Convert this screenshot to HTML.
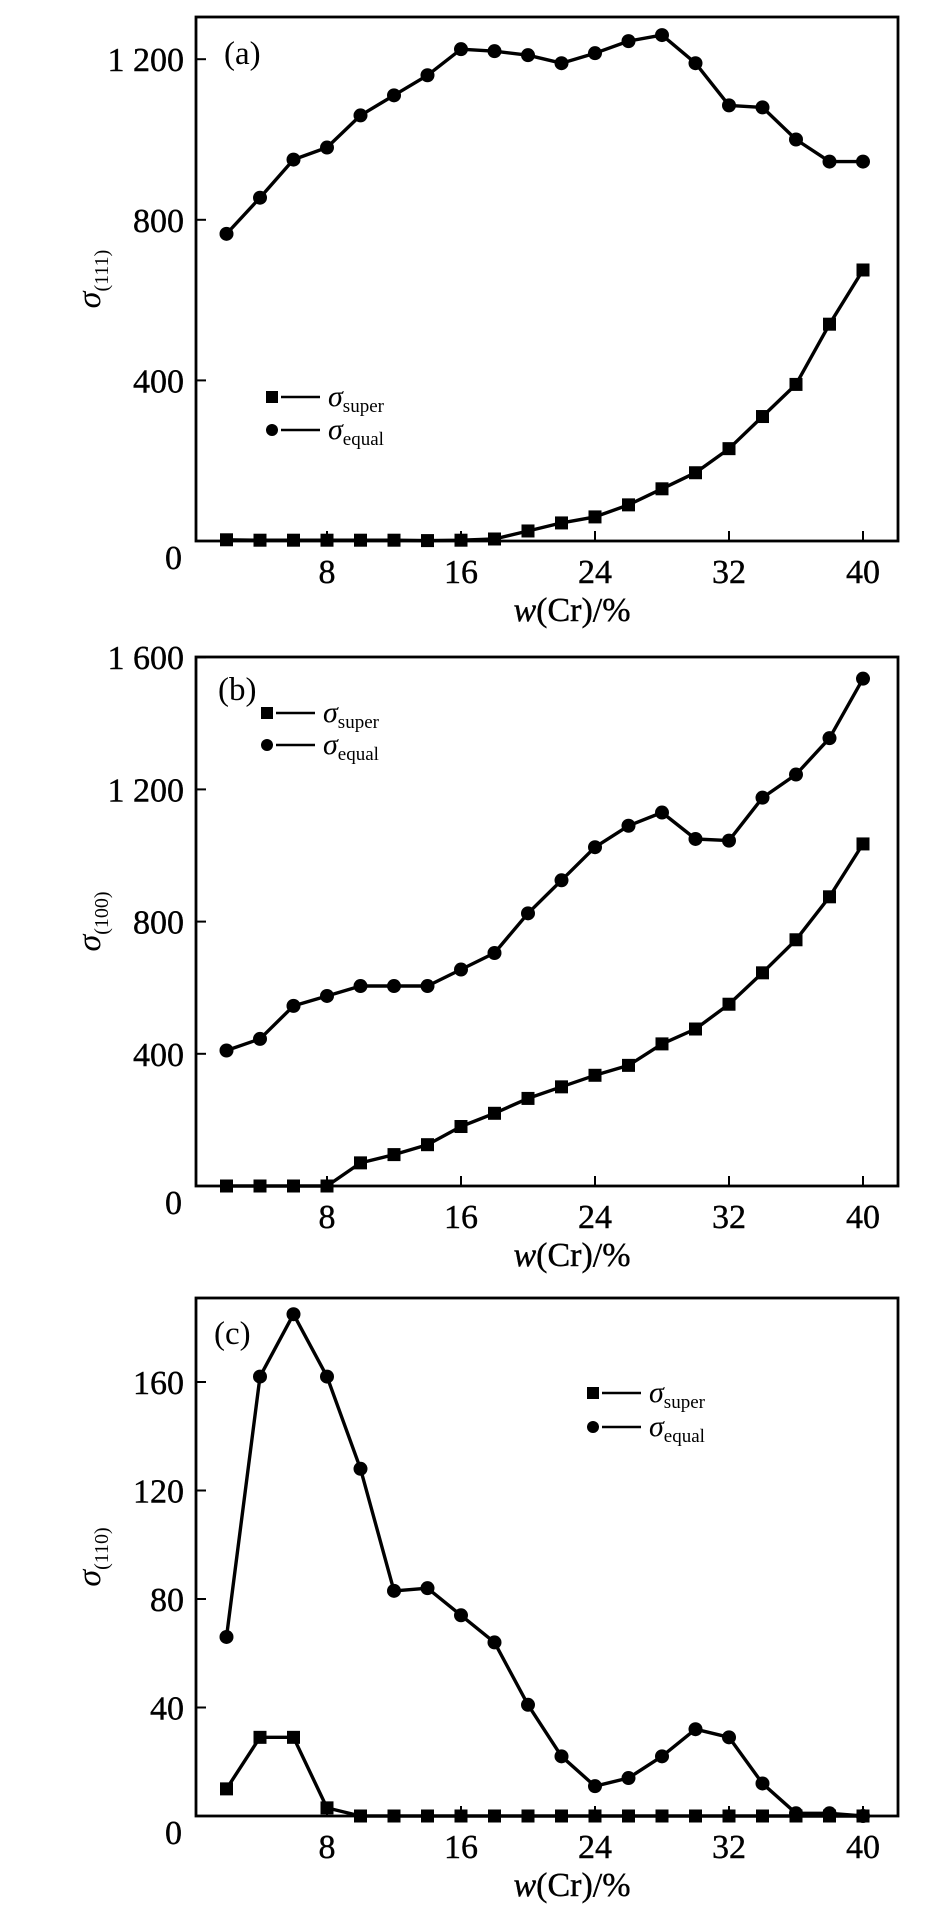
<!DOCTYPE html>
<html><head><meta charset="utf-8"><style>
html,body{margin:0;padding:0;background:#fff;}
svg{display:block;}
text{font-family:"Liberation Serif",serif;fill:#000;}
</style></head><body>
<svg id="s" width="950" height="1932" viewBox="0 0 950 1932" xmlns="http://www.w3.org/2000/svg"></svg>
<script>
const S=document.getElementById('s');let h='';
const X0=193,XU=16.75,L=196,R=898;
function px(x){return X0+x*XU;}
const xs=[];for(let i=2;i<=40;i+=2)xs.push(i);
function panel(o){
 const {top,bot,per,step,ticks,eq,su,tag,tagY,sub,leg}=o;
 const py=v=>bot-v/step*per;
 h+=`<rect x="${L}" y="${top}" width="${R-L}" height="${bot-top}" fill="none" stroke="#000" stroke-width="2.8"/>`;
 [8,16,24,32,40].forEach(t=>{const x=px(t);h+=`<line x1="${x}" y1="${bot}" x2="${x}" y2="${bot-10}" stroke="#000" stroke-width="2"/><text x="${x}" y="${bot+42}" font-size="34" text-anchor="middle" stroke="#000" stroke-width="0.4">${t}</text>`;});
 ticks.forEach(t=>{const y=py(t);h+=`<line x1="${L}" y1="${y}" x2="${L+10}" y2="${y}" stroke="#000" stroke-width="2"/><text x="${L-12}" y="${y+12}" font-size="34" text-anchor="end" stroke="#000" stroke-width="0.4">${t>=1000?String(t).replace(/^(\d)/,'$1 '):t}</text>`;});
 h+=`<text x="${L-14}" y="${bot+28}" font-size="34" text-anchor="end" stroke="#000" stroke-width="0.4">0</text>`;
 h+=`<text x="572" y="${bot+80}" font-size="34" text-anchor="middle" stroke="#000" stroke-width="0.4"><tspan font-style="italic">w</tspan>(Cr)/%</text>`;
 const cy=(top+bot)/2;
 h+=`<text transform="translate(100,${cy}) rotate(-90)" font-size="34" text-anchor="middle"><tspan font-style="italic">σ</tspan><tspan font-size="20" dy="8">(${sub})</tspan></text>`;
 h+=`<text x="${o.tagX}" y="${tagY}" font-size="33">(${tag})</text>`;
 [[eq,'c'],[su,'s']].forEach(([d,m])=>{
  let p=d.map((v,i)=>`${px(xs[i]).toFixed(1)},${py(v).toFixed(1)}`).join(' ');
  h+=`<polyline points="${p}" fill="none" stroke="#000" stroke-width="3.4" stroke-linejoin="round"/>`;
  d.forEach((v,i)=>{const x=px(xs[i]),y=py(v);
   h+=m=='c'?`<circle cx="${x}" cy="${y}" r="7" fill="#000"/>`:`<rect x="${x-6.5}" y="${y-6.5}" width="13" height="13" fill="#000"/>`;});
 });
 const [lx,ly1,ly2]=leg;
 h+=`<rect x="${lx-6}" y="${ly1-6}" width="12" height="12" fill="#000"/><line x1="${lx+9}" y1="${ly1}" x2="${lx+48}" y2="${ly1}" stroke="#000" stroke-width="2.5"/><text x="${lx+56}" y="${ly1+9}" font-size="30" font-style="italic">σ<tspan font-style="normal" font-size="19" dy="6">super</tspan></text>`;
 h+=`<circle cx="${lx}" cy="${ly2}" r="6" fill="#000"/><line x1="${lx+9}" y1="${ly2}" x2="${lx+48}" y2="${ly2}" stroke="#000" stroke-width="2.5"/><text x="${lx+56}" y="${ly2+9}" font-size="30" font-style="italic">σ<tspan font-style="normal" font-size="19" dy="6">equal</tspan></text>`;
}
panel({top:17,bot:541,per:160.6,step:400,ticks:[400,800,1200],sub:'111',tag:'a',tagX:224,tagY:64,
 eq:[765,855,950,980,1060,1110,1160,1225,1220,1210,1190,1215,1245,1260,1190,1085,1080,1000,945,945],
 su:[3,2,2,2,2,2,1,2,5,25,45,60,90,130,170,230,310,390,540,675],leg:[272,397,430]});
panel({top:657,bot:1186,per:132.2,step:400,ticks:[400,800,1200,1600],sub:'100',tag:'b',tagX:218,tagY:700,
 eq:[410,445,545,575,605,605,605,655,705,825,925,1025,1090,1130,1050,1045,1175,1245,1355,1535],
 su:[0,0,0,0,70,95,125,180,220,265,300,335,365,430,475,550,645,745,875,1035],leg:[267,713,745]});
panel({top:1298,bot:1816,per:108.5,step:40,ticks:[40,80,120,160],sub:'110',tag:'c',tagX:214,tagY:1344,
 eq:[66,162,185,162,128,83,84,74,64,41,22,11,14,22,32,29,12,1,1,0],
 su:[10,29,29,3,0,0,0,0,0,0,0,0,0,0,0,0,0,0,0,0],leg:[593,1393,1427]});
S.innerHTML=h;
</script>
</body></html>
